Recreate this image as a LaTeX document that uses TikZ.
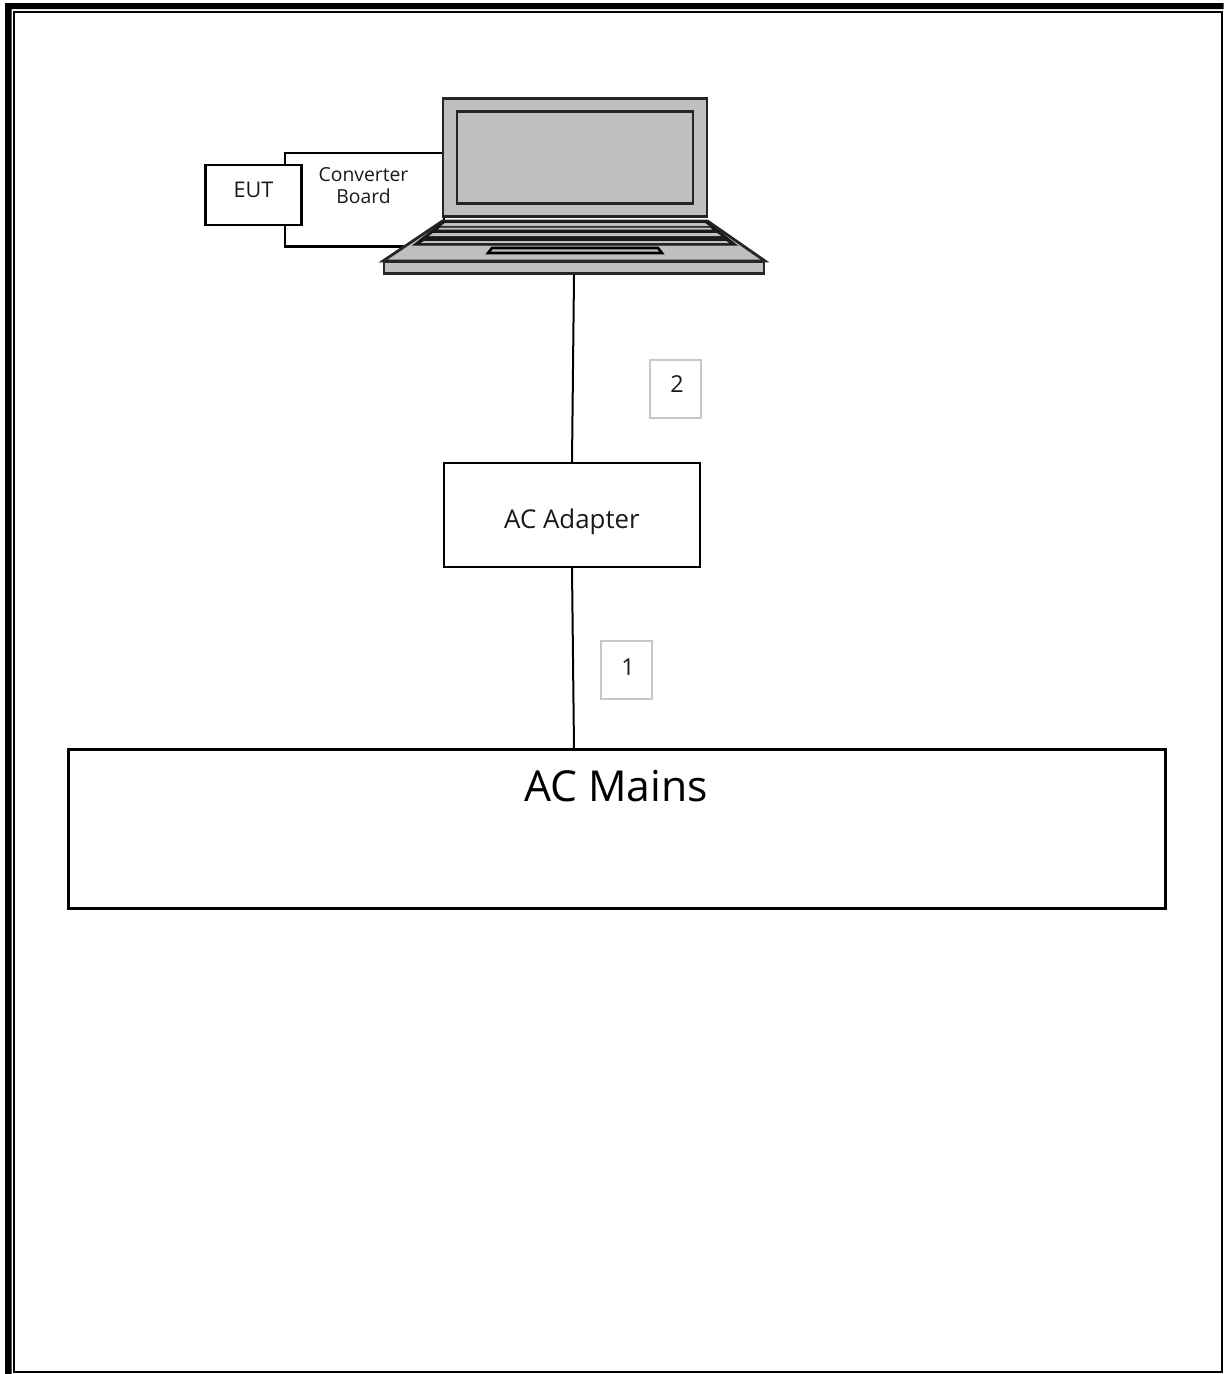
\documentclass[tikz,border=0pt]{standalone}
\usepackage{fontspec}
\setmainfont{Open Sans}
\definecolor{lapgray}{HTML}{BFBFBF}
\definecolor{numframe}{HTML}{C8C8C8}
\definecolor{inktext}{HTML}{1A1A1A}
\tikzset{
  x=0.75pt,y=-0.75pt,
  boxn/.style={draw=black,line width=1.8pt,fill=white,inner sep=0pt},
  lbl/.style={inner sep=0pt,align=center,text=inktext},
  numbox/.style={draw=numframe,line width=1.7pt,fill=white,inner sep=0pt},
  lap/.style={draw=black!85,line width=2.1pt,fill=lapgray,line join=miter},
  wire/.style={draw=black,line width=1.5pt},
}
\begin{document}
\begin{tikzpicture}
\useasboundingbox (0,0) rectangle (1225,1374);
\fill[white] (0,0) rectangle (1225,1374);
% page frame
\fill[black] (5,3) -- (1223.5,3) -- (1223.5,9) -- (11.5,9) -- (11.5,1374) -- (5,1374) -- cycle;
\draw[black,line width=1.5pt] (13.5,1371.5) -- (13.5,11.5) -- (1222,11.5) -- (1222,1371.5) -- cycle;
% converter board
\node[boxn,minimum width=119pt,minimum height=70pt,anchor=north west] (conv) at (284,152) {};
\node[lbl,font=\fontsize{14.5}{17}\selectfont] (convtxt) at (363.5,185.5) {Converter\\Board};
\node[boxn,minimum width=72pt,minimum height=45pt] (eut) at (253.5,195) {};
\node[lbl,font=\fontsize{16.2}{18}\selectfont] (euttxt) at (253.5,190) {EUT};
% laptop
\node[lap,minimum width=198pt,minimum height=88pt,inner sep=0pt] (screen) at (575,157.5) {};
\node[lap,minimum width=177pt,minimum height=68.5pt,inner sep=0pt] (panel) at (575,157.5) {};
\draw[lap] (442.5,221) -- (707.5,221) -- (765,261) -- (383,261) -- cycle;
\fill[black!90] (443,221) -- (707,221) -- (738,245.5) -- (412,245.5) -- cycle;
\fill[lapgray] (445,223) -- (705,223) -- (709,226) -- (441,226) -- cycle;
\fill[lapgray] (440,227.5) -- (710,227.5) -- (712,229.5) -- (438,229.5) -- cycle;
\fill[lapgray] (433,233) -- (717,233) -- (721,236) -- (429,236) -- cycle;
\fill[lapgray] (424,241) -- (726,241) -- (729,243) -- (421,243) -- cycle;
\draw[draw=black,line width=1.9pt,fill=lapgray] (492,248) -- (658,248) -- (662,253) -- (488,253) -- cycle;
\node[lap,minimum width=285pt,minimum height=9.5pt,inner sep=0pt] (base) at (574,267.5) {};
% adapter and mains
\node[boxn,minimum width=192pt,minimum height=78pt] (adapter) at (572,515) {};
\node[lbl,font=\fontsize{19.4}{22}\selectfont] (adaptertxt) at (572,522) {AC Adapter};
\node[boxn,line width=2pt,minimum width=823pt,minimum height=119pt] (mains) at (617,829) {};
\node[inner sep=0pt,text=black,font=\fontsize{32}{36}\selectfont] (mainstxt) at (616,786.5) {AC Mains};
% number boxes
\node[numbox,minimum width=38.5pt,minimum height=43.5pt] (n2) at (675.5,389) {};
\node[lbl,font=\fontsize{17.5}{20}\selectfont] (n2t) at (677,384) {2};
\node[numbox,minimum width=38.5pt,minimum height=43.5pt] (n1) at (626.5,670) {};
\node[lbl,font=\fontsize{17.5}{20}\selectfont] (n1t) at (628,667.5) {1};
% connectors
\draw[wire] (base.south) -- (572,462);
\draw[wire] (adapter.south) -- (574,749);
\end{tikzpicture}
\end{document}
